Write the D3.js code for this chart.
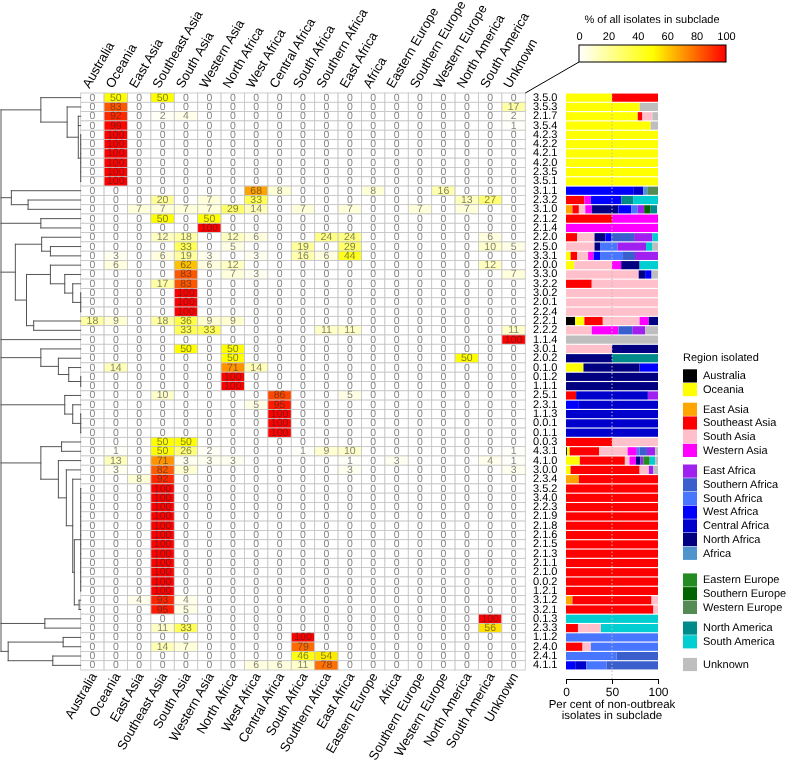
<!DOCTYPE html>
<html><head><meta charset="utf-8">
<script src="https://cdn.jsdelivr.net/npm/d3@7"></script>
<style>
body{margin:0;background:#fff;}
svg{display:block;font-family:"Liberation Sans",Arial,Helvetica,sans-serif;will-change:transform;}
svg text{text-rendering:geometricPrecision;}
</style></head><body>
<svg id="chart" width="788" height="763"></svg>
<script>
// ---------------- DATA ----------------
const rowLabels = ["3.5.0","3.5.3","2.1.7","3.5.4","4.2.3","4.2.2","4.2.1","4.2.0","2.3.5","3.5.1",
 "3.1.1","2.3.2","3.1.0","2.1.2","2.1.4","2.2.0","2.5.0","3.3.1","2.0.0","3.3.0","3.2.2","3.0.2",
 "2.0.1","2.2.4","2.2.1","2.2.2","1.1.4","3.0.1","2.0.2","0.1.0","0.1.2","1.1.1","2.5.1","2.3.1",
 "1.1.3","0.0.1","0.1.1","0.0.3","4.3.1","4.1.0","3.0.0","2.3.4","3.5.2","3.4.0","2.2.3","2.1.9",
 "2.1.8","2.1.6","2.1.5","2.1.3","2.1.1","2.1.0","0.0.2","1.2.1","3.1.2","3.2.1","0.1.3","2.3.3",
 "1.1.2","2.4.0","2.4.1","4.1.1"];

const regionsTop = ["Australia","Oceania","East Asia","Southeast Asia","South Asia","Western Asia",
 "North Africa","West Africa","Central Africa","South Africa","Southern Africa","East Africa","Africa",
 "Eastern Europe","Southern Europe","Western Europe","North America","South America","Unknown"];
const regionsBottom = ["Australia","Oceania","East Asia","Southeast Asia","South Asia","Western Asia",
 "North Africa","West Africa","Central Africa","South Africa","Southern Africa","East Africa","Eastern Europe",
 "Africa","Southern Europe","Western Europe","North America","South America","Unknown"];
const regionColors = ["#000000","#ffff00","#ffa500","#ff0000","#ffc0cb","#ff00ff",
 "#000080","#0000ff","#0000cd","#4876ff","#3a5fcd","#a020f0","#4f94cd",
 "#228b22","#006400","#548b54","#008b8b","#00ced1","#bebebe"];
// legend groups (indices into regionsTop)
const legendGroups = [[0,1],[2,3,4,5],[11,10,9,7,8,6,12],[13,14,15],[16,17],[18]];

// % of all isolates in subclade (heatmap), columns follow regionsTop
const heatValues = [
 [0,50,0,50,0,0,0,0,0,0,0,0,0,0,0,0,0,0,0],
 [0,83,0,0,0,0,0,0,0,0,0,0,0,0,0,0,0,0,17],
 [0,92,0,2,4,0,0,0,0,0,0,0,0,0,0,0,0,0,2],
 [0,99,0,0,0,0,0,0,0,0,0,0,0,0,0,0,0,0,1],
 [0,100,0,0,0,0,0,0,0,0,0,0,0,0,0,0,0,0,0],
 [0,100,0,0,0,0,0,0,0,0,0,0,0,0,0,0,0,0,0],
 [0,100,0,0,0,0,0,0,0,0,0,0,0,0,0,0,0,0,0],
 [0,100,0,0,0,0,0,0,0,0,0,0,0,0,0,0,0,0,0],
 [0,100,0,0,0,0,0,0,0,0,0,0,0,0,0,0,0,0,0],
 [0,100,0,0,0,0,0,0,0,0,0,0,0,0,0,0,0,0,0],
 [0,0,0,0,0,0,0,68,8,0,0,0,8,0,0,16,0,0,0],
 [0,0,0,20,0,7,0,33,0,0,0,0,0,0,0,0,13,27,0],
 [0,0,7,7,7,7,29,14,0,7,0,7,0,0,7,0,7,0,0],
 [0,0,0,50,0,50,0,0,0,0,0,0,0,0,0,0,0,0,0],
 [0,0,0,0,0,100,0,0,0,0,0,0,0,0,0,0,0,0,0],
 [0,0,0,12,18,0,12,6,0,0,24,24,0,0,0,0,0,6,0],
 [0,0,0,0,33,0,5,0,0,19,0,29,0,0,0,0,0,10,5],
 [0,3,0,6,19,3,0,3,0,16,6,44,0,0,0,0,0,0,0],
 [0,6,0,0,62,6,12,0,0,0,0,0,0,0,0,0,0,12,0],
 [0,0,0,0,83,0,7,3,0,0,0,0,0,0,0,0,0,0,7],
 [0,0,0,17,83,0,0,0,0,0,0,0,0,0,0,0,0,0,0],
 [0,0,0,0,100,0,0,0,0,0,0,0,0,0,0,0,0,0,0],
 [0,0,0,0,100,0,0,0,0,0,0,0,0,0,0,0,0,0,0],
 [0,0,0,0,100,0,0,0,0,0,0,0,0,0,0,0,0,0,0],
 [18,9,0,18,36,9,9,0,0,0,0,0,0,0,0,0,0,0,0],
 [0,0,0,0,33,33,0,0,0,0,11,11,0,0,0,0,0,0,11],
 [0,0,0,0,0,0,0,0,0,0,0,0,0,0,0,0,0,0,100],
 [0,0,0,0,50,0,50,0,0,0,0,0,0,0,0,0,0,0,0],
 [0,0,0,0,0,0,50,0,0,0,0,0,0,0,0,0,50,0,0],
 [0,14,0,0,0,0,71,14,0,0,0,0,0,0,0,0,0,0,0],
 [0,0,0,0,0,0,100,0,0,0,0,0,0,0,0,0,0,0,0],
 [0,0,0,0,0,0,100,0,0,0,0,0,0,0,0,0,0,0,0],
 [0,0,0,10,0,0,0,0,86,0,0,5,0,0,0,0,0,0,0],
 [0,0,0,0,0,0,0,5,95,0,0,0,0,0,0,0,0,0,0],
 [0,0,0,0,0,0,0,0,100,0,0,0,0,0,0,0,0,0,0],
 [0,0,0,0,0,0,0,0,100,0,0,0,0,0,0,0,0,0,0],
 [0,0,0,0,0,0,0,0,100,0,0,0,0,0,0,0,0,0,0],
 [0,0,0,50,50,0,0,0,0,0,0,0,0,0,0,0,0,0,0],
 [0,1,0,50,26,2,0,0,0,1,9,10,0,0,0,0,0,0,1],
 [0,13,0,71,3,3,3,0,0,0,0,1,0,3,0,0,0,4,1],
 [0,3,0,82,9,0,0,0,0,0,0,3,0,0,0,0,0,0,3],
 [0,0,8,92,0,0,0,0,0,0,0,0,0,0,0,0,0,0,0],
 [0,0,0,100,0,0,0,0,0,0,0,0,0,0,0,0,0,0,0],
 [0,0,0,100,0,0,0,0,0,0,0,0,0,0,0,0,0,0,0],
 [0,0,0,100,0,0,0,0,0,0,0,0,0,0,0,0,0,0,0],
 [0,0,0,100,0,0,0,0,0,0,0,0,0,0,0,0,0,0,0],
 [0,0,0,100,0,0,0,0,0,0,0,0,0,0,0,0,0,0,0],
 [0,0,0,100,0,0,0,0,0,0,0,0,0,0,0,0,0,0,0],
 [0,0,0,100,0,0,0,0,0,0,0,0,0,0,0,0,0,0,0],
 [0,0,0,100,0,0,0,0,0,0,0,0,0,0,0,0,0,0,0],
 [0,0,0,100,0,0,0,0,0,0,0,0,0,0,0,0,0,0,0],
 [0,0,0,100,0,0,0,0,0,0,0,0,0,0,0,0,0,0,0],
 [0,0,0,100,0,0,0,0,0,0,0,0,0,0,0,0,0,0,0],
 [0,0,0,100,0,0,0,0,0,0,0,0,0,0,0,0,0,0,0],
 [0,0,4,93,4,0,0,0,0,0,0,0,0,0,0,0,0,0,0],
 [0,0,0,95,5,0,0,0,0,0,0,0,0,0,0,0,0,0,0],
 [0,0,0,0,0,0,0,0,0,0,0,0,0,0,0,0,0,100,0],
 [0,0,0,11,33,0,0,0,0,0,0,0,0,0,0,0,0,56,0],
 [0,0,0,0,0,0,0,0,0,100,0,0,0,0,0,0,0,0,0],
 [0,0,0,14,7,0,0,0,0,79,0,0,0,0,0,0,0,0,0],
 [0,0,0,0,0,0,0,0,0,46,54,0,0,0,0,0,0,0,0],
 [0,0,0,0,0,0,0,6,6,11,78,0,0,0,0,0,0,0,0]
];

// per cent of non-outbreak isolates in subclade (stacked bars), columns follow regionsTop
const barValues = [
 [0,50,0,50,0,0,0,0,0,0,0,0,0,0,0,0,0,0,0],
 [0,80,0,0,0,0,0,0,0,0,0,0,0,0,0,0,0,0,20],
 [0,78,0,5,11,0,0,0,0,0,0,0,0,0,0,0,0,0,6],
 [0,92,0,0,0,0,0,0,0,0,0,0,0,0,0,0,0,0,8],
 [0,100,0,0,0,0,0,0,0,0,0,0,0,0,0,0,0,0,0],
 [0,100,0,0,0,0,0,0,0,0,0,0,0,0,0,0,0,0,0],
 [0,100,0,0,0,0,0,0,0,0,0,0,0,0,0,0,0,0,0],
 [0,100,0,0,0,0,0,0,0,0,0,0,0,0,0,0,0,0,0],
 [0,100,0,0,0,0,0,0,0,0,0,0,0,0,0,0,0,0,0],
 [0,100,0,0,0,0,0,0,0,0,0,0,0,0,0,0,0,0,0],
 [0,0,0,0,0,0,0,73,11,0,0,0,5,0,0,11,0,0,0],
 [0,0,0,20,0,7,0,33,0,0,0,0,0,0,0,0,13,27,0],
 [0,0,7,7,7,7,29,14,0,7,0,7,0,0,7,0,7,0,0],
 [0,0,0,50,0,50,0,0,0,0,0,0,0,0,0,0,0,0,0],
 [0,0,0,0,0,100,0,0,0,0,0,0,0,0,0,0,0,0,0],
 [0,0,0,12,19,0,12,6,0,0,25,20,0,0,0,0,0,6,0],
 [0,0,0,0,31,0,6,0,0,19,0,31,0,0,0,0,0,7,6],
 [0,5,0,7,12,6,0,7,0,25,13,25,0,0,0,0,0,0,0],
 [0,9,0,0,41,10,20,0,0,0,0,0,0,0,0,0,0,20,0],
 [0,0,0,0,79,0,7,7,0,0,0,0,0,0,0,0,0,0,7],
 [0,0,0,28,72,0,0,0,0,0,0,0,0,0,0,0,0,0,0],
 [0,0,0,0,100,0,0,0,0,0,0,0,0,0,0,0,0,0,0],
 [0,0,0,0,100,0,0,0,0,0,0,0,0,0,0,0,0,0,0],
 [0,0,0,0,100,0,0,0,0,0,0,0,0,0,0,0,0,0,0],
 [10,10,0,20,40,10,10,0,0,0,0,0,0,0,0,0,0,0,0],
 [0,0,0,0,28,29,0,0,0,0,15,14,0,0,0,0,0,0,14],
 [0,0,0,0,0,0,0,0,0,0,0,0,0,0,0,0,0,0,100],
 [0,0,0,0,50,0,50,0,0,0,0,0,0,0,0,0,0,0,0],
 [0,0,0,0,0,0,50,0,0,0,0,0,0,0,0,0,50,0,0],
 [0,19,0,0,0,0,61,20,0,0,0,0,0,0,0,0,0,0,0],
 [0,0,0,0,0,0,100,0,0,0,0,0,0,0,0,0,0,0,0],
 [0,0,0,0,0,0,100,0,0,0,0,0,0,0,0,0,0,0,0],
 [0,0,0,11,0,0,0,0,78,0,0,11,0,0,0,0,0,0,0],
 [0,0,0,0,0,0,0,14,86,0,0,0,0,0,0,0,0,0,0],
 [0,0,0,0,0,0,0,0,100,0,0,0,0,0,0,0,0,0,0],
 [0,0,0,0,0,0,0,0,100,0,0,0,0,0,0,0,0,0,0],
 [0,0,0,0,0,0,0,0,100,0,0,0,0,0,0,0,0,0,0],
 [0,0,0,50,50,0,0,0,0,0,0,0,0,0,0,0,0,0,0],
 [1,3,0,32,31,10,0,0,0,3,8,9,0,0,0,0,0,0,3],
 [0,15,0,49,5,7,5,0,0,0,0,3,0,7,0,0,0,6,3],
 [0,5,0,75,10,0,0,0,0,0,0,5,0,0,0,0,0,0,5],
 [0,0,14,86,0,0,0,0,0,0,0,0,0,0,0,0,0,0,0],
 [0,0,0,100,0,0,0,0,0,0,0,0,0,0,0,0,0,0,0],
 [0,0,0,100,0,0,0,0,0,0,0,0,0,0,0,0,0,0,0],
 [0,0,0,100,0,0,0,0,0,0,0,0,0,0,0,0,0,0,0],
 [0,0,0,100,0,0,0,0,0,0,0,0,0,0,0,0,0,0,0],
 [0,0,0,100,0,0,0,0,0,0,0,0,0,0,0,0,0,0,0],
 [0,0,0,100,0,0,0,0,0,0,0,0,0,0,0,0,0,0,0],
 [0,0,0,100,0,0,0,0,0,0,0,0,0,0,0,0,0,0,0],
 [0,0,0,100,0,0,0,0,0,0,0,0,0,0,0,0,0,0,0],
 [0,0,0,100,0,0,0,0,0,0,0,0,0,0,0,0,0,0,0],
 [0,0,0,100,0,0,0,0,0,0,0,0,0,0,0,0,0,0,0],
 [0,0,0,100,0,0,0,0,0,0,0,0,0,0,0,0,0,0,0],
 [0,0,0,100,0,0,0,0,0,0,0,0,0,0,0,0,0,0,0],
 [0,0,7,86,7,0,0,0,0,0,0,0,0,0,0,0,0,0,0],
 [0,0,0,95,5,0,0,0,0,0,0,0,0,0,0,0,0,0,0],
 [0,0,0,0,0,0,0,0,0,0,0,0,0,0,0,0,0,100,0],
 [0,0,0,13,25,0,0,0,0,0,0,0,0,0,0,0,0,62,0],
 [0,0,0,0,0,0,0,0,0,100,0,0,0,0,0,0,0,0,0],
 [0,0,0,18,9,0,0,0,0,73,0,0,0,0,0,0,0,0,0],
 [0,0,0,0,0,0,0,0,0,55,45,0,0,0,0,0,0,0,0],
 [0,0,0,0,0,0,0,10,12,22,56,0,0,0,0,0,0,0,0]
];

// dendrogram: [node depth (0 = root, 1 = leaves), ...children]; leaves are row labels
const dendrogram = [0,
 [0.5, "3.5.0", [0.83, "3.5.3", [0.97, "2.1.7", "3.5.4", [1, "4.2.3","4.2.2","4.2.1","4.2.0","2.3.5","3.5.1"]]]],
 [0.13, "3.1.1", [0.34, "2.3.2", "3.1.0"]],
 [0.5, "2.1.2", "2.1.4"],
 [0.18, [0.51, "2.2.0", [0.62, "2.5.0", "3.3.1"]],
        [0.32, [0.62, "2.0.0", [0.8, "3.3.0", [0.9, "3.2.2", [1, "3.0.2","2.0.1","2.2.4"]]]],
               [0.41, "2.2.1", "2.2.2"]]],
 "1.1.4",
 [0.5, "3.0.1", [0.72, "2.0.2", [0.85, "0.1.0", [1, "0.1.2", "1.1.1"]]]],
 [0.8, "2.5.1", [0.9, "2.3.1", [1, "1.1.3","0.0.1","0.1.1"]]],
 [0.5, [0.76, "0.0.3", "4.3.1"],
       [0.72, "4.1.0", [0.82, "3.0.0", [0.9, "2.3.4",
         [0.92, [1, "3.5.2","3.4.0","2.2.3","2.1.9","2.1.8","2.1.6","2.1.5","2.1.3","2.1.1","2.1.0","0.0.2","1.2.1"],
                [0.98, "3.1.2", "3.2.1"]]]]]],
 [0.55, "0.1.3", "2.3.3"],
 [0.09, [0.78, "1.1.2", "2.4.0"], [0.65, "2.4.1", "4.1.1"]]
];

const colorbarTicks = [0,20,40,60,80,100];
const barTicks = [0,50,100];

// ---------------- DRAW ----------------
const svg = d3.select("#chart");
const nRows = rowLabels.length, nCols = regionsTop.length;

const xCol = d3.scaleBand().domain(d3.range(nCols)).range([80.7, 525.3]);
const yRow = d3.scaleBand().domain(d3.range(nRows)).range([93, 670]);
const heatColor = d3.scaleLinear().domain([0,50,100]).range(["#ffffff","#ffff00","#ff0000"]);
const textColor = v => d3.interpolateRgb(heatColor(v), "#2b2b2b")(0.58);

// heatmap cells
const cells = [];
heatValues.forEach((row,i)=>row.forEach((v,j)=>cells.push({i,j,v})));
const gHeat = svg.append("g");
gHeat.selectAll("rect").data(cells).join("rect")
  .attr("x", d=>xCol(d.j)).attr("y", d=>yRow(d.i))
  .attr("width", xCol.bandwidth()).attr("height", yRow.bandwidth())
  .attr("fill", d=>heatColor(d.v))
  .attr("stroke", "#c4c4c4").attr("stroke-width", 0.8);
gHeat.selectAll("text").data(cells).join("text")
  .attr("x", d=>xCol(d.j)+xCol.bandwidth()/2)
  .attr("y", d=>yRow(d.i)+yRow.bandwidth()/2)
  .attr("text-anchor","middle").attr("dominant-baseline","central")
  .attr("font-size", 10.5).attr("fill", d=>textColor(d.v))
  .text(d=>d.v);

// column labels
svg.append("g").selectAll("text").data(regionsTop).join("text")
  .attr("transform",(d,j)=>`translate(${xCol(j)+xCol.bandwidth()/2-3},89) rotate(-60)`)
  .attr("font-size",13).attr("fill","#000").text(d=>d);
svg.append("g").selectAll("text").data(regionsBottom).join("text")
  .attr("transform",(d,j)=>`translate(${xCol(j)+xCol.bandwidth()/2+5},676) rotate(-60)`)
  .attr("text-anchor","end").attr("font-size",13).attr("fill","#000").text(d=>d);

// row labels
svg.append("g").selectAll("text").data(rowLabels).join("text")
  .attr("x",533).attr("y",(d,i)=>yRow(i)+yRow.bandwidth()/2)
  .attr("dominant-baseline","central").attr("font-size",11).attr("fill","#000").text(d=>d);

// dendrogram
const xTree = d3.scaleLinear().domain([0,1]).range([1, 80.7]);
const segs = [];
function layout(node){
  if (typeof node === "string"){
    const i = rowLabels.indexOf(node);
    return {x: xTree(1), y: yRow(i)+yRow.bandwidth()/2};
  }
  const [d, ...kids] = node;
  const ks = kids.map(layout);
  const x = xTree(d);
  const y0 = ks[0].y, y1 = ks[ks.length-1].y;
  segs.push([x,y0,x,y1]);
  ks.forEach(k=>segs.push([x,k.y,k.x,k.y]));
  return {x, y:(y0+y1)/2};
}
layout(dendrogram);
svg.append("g").selectAll("line").data(segs).join("line")
  .attr("x1",d=>d[0]).attr("y1",d=>d[1]).attr("x2",d=>d[2]).attr("y2",d=>d[3])
  .attr("stroke","#555").attr("stroke-width",1).attr("stroke-linecap","square");

// stacked bars
const xBar = d3.scaleLinear().domain([0,100]).range([566,658]);
const yBar = d3.scaleBand().domain(d3.range(nRows)).range([93,670]).paddingInner(0.12).paddingOuter(0.06);
const stack = d3.stack().keys(d3.range(nCols)).value((row,k)=>row[k]);
const series = stack(barValues);
const gBars = svg.append("g");
series.forEach((s,k)=>{
  gBars.append("g").attr("fill",regionColors[k]).selectAll("rect")
    .data(s.map((seg,i)=>({i,seg})).filter(d=>d.seg[1]>d.seg[0]))
    .join("rect")
    .attr("x",d=>xBar(d.seg[0])).attr("width",d=>xBar(d.seg[1])-xBar(d.seg[0]))
    .attr("y",d=>yBar(d.i)).attr("height",yBar.bandwidth());
});
// dotted 50% guide
svg.append("line").attr("x1",xBar(50)).attr("x2",xBar(50)).attr("y1",93).attr("y2",679)
  .attr("stroke","#bbb").attr("stroke-width",1).attr("stroke-dasharray","1.5,2");
// bar axis
const gAx = svg.append("g").attr("transform","translate(0,679)")
  .call(d3.axisBottom(xBar).tickValues(barTicks).tickSize(5).tickSizeOuter(0));
gAx.select(".domain").attr("stroke","#000");
gAx.selectAll(".tick line").attr("stroke","#000");
gAx.selectAll(".tick text").attr("font-size",12).attr("font-family","Liberation Sans, Arial, sans-serif").attr("fill","#000");
svg.append("text").attr("x",612).attr("y",708).attr("text-anchor","middle").attr("font-size",11.5).text("Per cent of non-outbreak");
svg.append("text").attr("x",612).attr("y",719).attr("text-anchor","middle").attr("font-size",11.5).text("isolates in subclade");

// colour key
const cbX = d3.scaleLinear().domain([0,100]).range([579,726]);
const defs = svg.append("defs");
const grad = defs.append("linearGradient").attr("id","cbgrad");
[[0,"#ffffff"],[50,"#ffff00"],[100,"#ff0000"]].forEach(([v,c])=>grad.append("stop").attr("offset",v+"%").attr("stop-color",c));
svg.append("rect").attr("x",cbX(0)).attr("y",45).attr("width",cbX(100)-cbX(0)).attr("height",17)
  .attr("fill","url(#cbgrad)").attr("stroke","#000").attr("stroke-width",1);
const gCb = svg.append("g").attr("transform","translate(0,45)")
  .call(d3.axisTop(cbX).tickValues(colorbarTicks).tickSize(0).tickPadding(5));
gCb.select(".domain").remove();
gCb.selectAll(".tick text").attr("font-size",11).attr("font-family","Liberation Sans, Arial, sans-serif").attr("fill","#000");
svg.append("text").attr("x",652).attr("y",23).attr("text-anchor","middle").attr("font-size",11).text("% of all isolates in subclade");
svg.append("line").attr("x1",525.3).attr("y1",93).attr("x2",cbX(0)).attr("y2",62).attr("stroke","#000").attr("stroke-width",1);

// legend
const gLeg = svg.append("g");
gLeg.append("text").attr("x",683).attr("y",361).attr("font-size",11).text("Region isolated");
const groupGaps = [0,6,7,13,7,9];
let ly = 369.3, step = 13.7;
const legItems = [];
legendGroups.forEach((g,gi)=>{
  ly += groupGaps[gi];
  g.forEach(k=>{ legItems.push({k,y:ly}); ly += step; });
});
gLeg.selectAll("rect").data(legItems).join("rect")
  .attr("x",683).attr("y",d=>d.y).attr("width",14).attr("height",13.2).attr("fill",d=>regionColors[d.k]);
gLeg.selectAll("text.li").data(legItems).join("text").attr("class","li")
  .attr("x",703).attr("y",d=>d.y+6.8).attr("dominant-baseline","central").attr("font-size",11)
  .text(d=>regionsTop[d.k]);
</script>
</body></html>
